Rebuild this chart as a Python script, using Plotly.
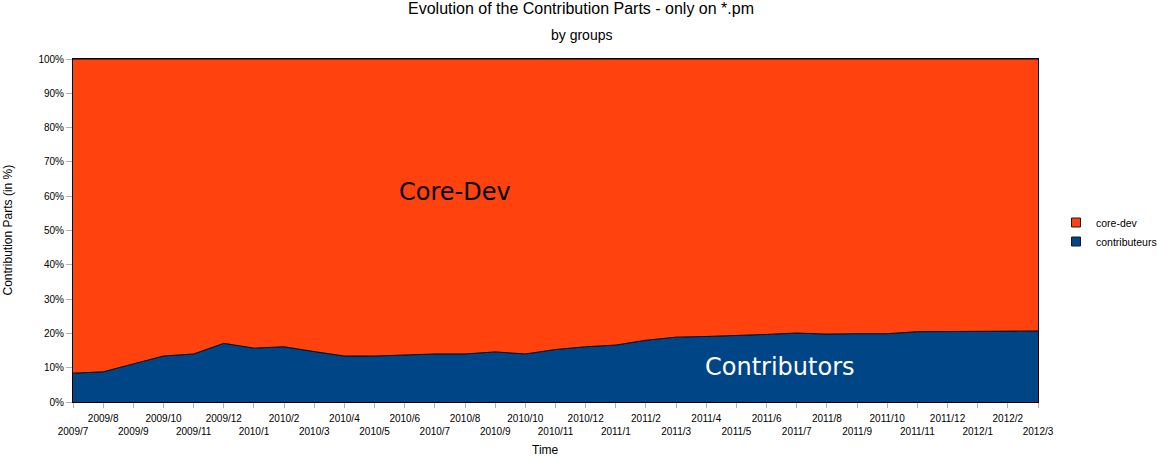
import plotly.graph_objects as go

months = ["2009/7", "2009/8", "2009/9", "2009/10", "2009/11", "2009/12",
          "2010/1", "2010/2", "2010/3", "2010/4", "2010/5", "2010/6",
          "2010/7", "2010/8", "2010/9", "2010/10", "2010/11", "2010/12",
          "2011/1", "2011/2", "2011/3", "2011/4", "2011/5", "2011/6",
          "2011/7", "2011/8", "2011/9", "2011/10", "2011/11", "2011/12",
          "2012/1", "2012/2", "2012/3"]

contributeurs = [8.4, 8.8, 11.1, 13.4, 14.0, 17.1, 15.7, 16.1, 14.7, 13.4, 13.4, 13.7,
                 14.0, 14.0, 14.6, 14.0, 15.3, 16.1, 16.6, 18.0, 18.9, 19.1, 19.3, 19.7,
                 20.1, 19.8, 19.9, 19.9, 20.5, 20.5, 20.5, 20.5, 20.7]

core_dev = [91.6, 91.2, 88.9, 86.6, 86.0, 82.9, 84.3, 83.9, 85.3, 86.6, 86.6, 86.3,
            86.0, 86.0, 85.4, 86.0, 84.7, 83.9, 83.4, 82.0, 81.1, 80.9, 80.7, 80.3,
            79.9, 80.2, 80.1, 80.1, 79.5, 79.5, 79.5, 79.5, 79.3]

series_names = ["contributeurs", "core-dev"]
series_colors = ["#004586", "#ff420e"]

idx = list(range(len(months)))
ticktext = [m if i % 2 == 1 else " <br>" + m for i, m in enumerate(months)]

FONT = "Liberation Sans, Arial, sans-serif"

# plot area in pixels
L, R, T, B = 73, 1038, 59, 402
W, H = 1157, 457

fig = go.Figure()
for name, vals, col in zip(series_names, [contributeurs, core_dev], series_colors):
    fig.add_trace(go.Scatter(
        x=idx, y=vals, name=name, stackgroup="one",
        mode="lines", line=dict(color="black", width=1),
        fillcolor=col, showlegend=False))
# legend entries with square swatches
for name, col in zip(series_names, series_colors):
    fig.add_trace(go.Scatter(
        x=[None], y=[None], name=name, mode="markers",
        marker=dict(symbol="square", size=9, color=col,
                    line=dict(color="#1a1a1a", width=1)),
        showlegend=True))

def px_x(p):
    return (p - L) / (R - L)

def px_y(p):
    return (B - p) / (B - T)

fig.update_layout(
    width=W, height=H,
    margin=dict(l=L, r=W - R, t=T, b=H - B, autoexpand=False),
    paper_bgcolor="white", plot_bgcolor="white",
    font=dict(family=FONT, size=10, color="#000000"),
    title=dict(text="Evolution of the Contribution Parts - only on *.pm",
               x=581 / W, xref="container", xanchor="center",
               y=1 - 8 / H, yref="container", yanchor="middle",
               font=dict(family=FONT, size=16, color="black")),
    showlegend=True,
    legend=dict(x=1056 / W, y=(H - 232) / H, xref="container", yref="container",
                xanchor="left", yanchor="middle",
                traceorder="reversed", font=dict(family=FONT, size=10.5),
                bgcolor="rgba(0,0,0,0)", itemwidth=30, tracegroupgap=0),
    annotations=[
        dict(text="by groups", x=px_x(581), xref="paper", xanchor="center",
             y=px_y(35), yref="paper", yanchor="middle", showarrow=False,
             font=dict(family=FONT, size=14, color="black")),
        dict(text="Contribution Parts (in %)", x=px_x(7), xref="paper", xanchor="center",
             y=0.5, yref="paper", yanchor="middle", textangle=-90, showarrow=False,
             borderpad=0, font=dict(family=FONT, size=12, color="black")),
        dict(text="Time", x=px_x(545), xref="paper", xanchor="center",
             y=px_y(450), yref="paper", yanchor="middle", showarrow=False,
             borderpad=0, font=dict(family=FONT, size=12, color="black")),
        dict(text="Core-Dev", x=12.67, y=61.2, xref="x", yref="y", showarrow=False,
             font=dict(family="DejaVu Sans", size=24, color="black")),
        dict(text="Contributors", x=23.44, y=10.2, xref="x", yref="y", showarrow=False,
             font=dict(family="DejaVu Sans", size=24, color="white")),
    ],
)

fig.update_xaxes(
    range=[0, 32], tickmode="array", tickvals=idx, ticktext=ticktext,
    tickangle=0, ticks="outside", ticklen=5, tickcolor="#b3b3b3",
    ticklabelstandoff=2,
    showline=True, linecolor="black", linewidth=1, mirror=True,
    showgrid=False, zeroline=False, automargin=False,
    tickfont=dict(family=FONT, size=10, color="black"))
fig.update_yaxes(
    range=[0, 100], tickmode="linear", dtick=10, tick0=0, ticksuffix="%",
    ticks="outside", ticklen=6, tickcolor="#b3b3b3",
    showline=True, linecolor="black", linewidth=1, mirror=True,
    showgrid=False, zeroline=False, automargin=False,
    tickfont=dict(family=FONT, size=10, color="black"))

fig.write_html("out.html")
